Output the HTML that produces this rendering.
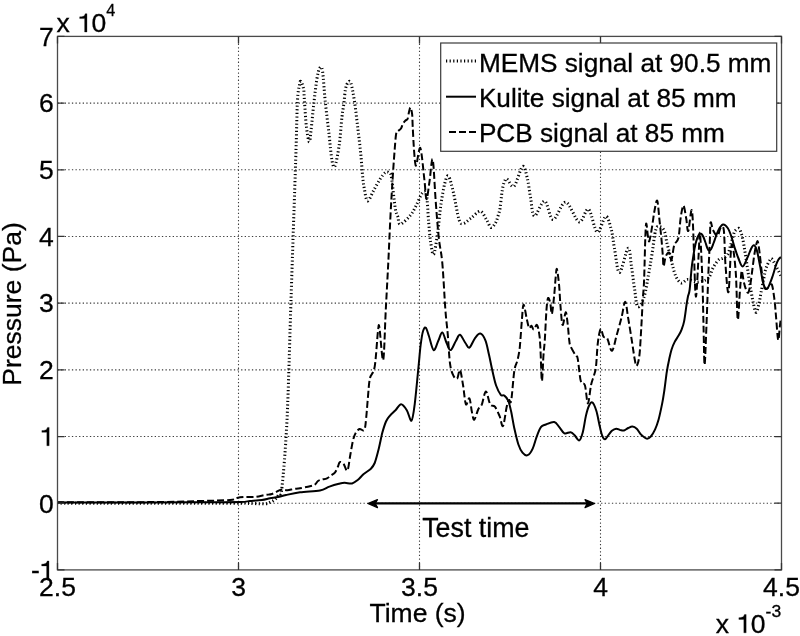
<!DOCTYPE html><html><head><meta charset="utf-8"><style>html,body{margin:0;padding:0;background:#fff;}svg{display:block;will-change:transform;}text{font-family:"Liberation Sans",sans-serif;fill:#000;stroke:#000;stroke-width:0.3px;}</style></head><body>
<svg width="800" height="636" viewBox="0 0 800 636">
<rect width="800" height="636" fill="#fff"/>
<path d="M238.5,36.4V569.9M419.5,36.4V569.9M600.5,36.4V569.9M57.5,103.0875H781.5M57.5,169.775H781.5M57.5,236.4625H781.5M57.5,303.15H781.5M57.5,369.8375H781.5M57.5,436.525H781.5M57.5,503.2125H781.5" stroke="#3c3c3c" stroke-width="1.1" stroke-dasharray="1.3 2.3" fill="none"/>
<path d="M57.0,503.3C64.2,503.3 84.5,503.2 100.0,503.2C115.5,503.2 133.3,503.3 150.0,503.3C166.7,503.3 185.0,503.2 200.0,503.2C215.0,503.2 230.8,503.1 240.0,503.2C249.2,503.3 250.8,503.5 255.0,503.6C259.2,503.7 262.5,504.0 265.0,503.8C267.5,503.6 268.3,503.0 270.0,502.3C271.7,501.6 273.5,500.9 275.0,499.5C276.5,498.1 277.8,496.1 279.0,494.0C280.2,491.9 280.7,499.3 282.0,487.0C283.3,474.7 285.5,451.2 287.0,420.0C288.5,388.8 289.6,343.3 291.0,300.0C292.4,256.7 294.6,193.0 295.7,160.0C296.8,127.0 296.8,114.5 297.4,102.0C298.0,89.5 298.9,88.4 299.5,85.0C300.1,81.6 300.1,80.7 300.8,81.4C301.5,82.1 303.0,85.6 303.6,89.0C304.2,92.4 304.0,95.7 304.5,102.0C305.0,108.3 305.6,120.1 306.4,126.7C307.2,133.3 308.4,141.2 309.2,141.8C310.0,142.4 310.2,137.1 311.0,130.5C311.8,123.9 313.0,110.5 314.0,102.0C315.0,93.5 315.9,85.1 316.8,79.5C317.7,73.9 318.7,69.6 319.6,68.2C320.6,66.8 321.6,65.4 322.5,71.0C323.4,76.6 324.2,91.5 325.3,102.0C326.4,112.5 327.9,124.2 329.0,134.0C330.1,143.8 331.0,155.4 332.0,160.7C333.0,166.0 333.8,168.6 335.0,166.0C336.2,163.4 338.0,153.2 339.2,145.0C340.4,136.8 341.2,123.5 342.0,116.6C342.8,109.7 343.3,108.0 343.9,103.4C344.5,98.8 344.8,92.6 345.5,89.0C346.2,85.4 347.4,82.9 348.3,82.0C349.2,81.1 350.0,80.2 351.0,83.5C352.0,86.8 353.3,93.8 354.5,101.5C355.7,109.2 356.9,121.0 358.0,129.8C359.1,138.6 360.0,146.4 360.8,154.3C361.6,162.2 362.1,171.2 362.7,177.0C363.3,182.8 363.6,185.0 364.4,189.0C365.2,193.0 366.0,200.7 367.6,200.9C369.2,201.1 371.8,193.7 373.9,190.0C376.0,186.3 378.3,181.8 380.2,178.9C382.1,176.0 383.7,173.7 385.2,172.6C386.7,171.5 387.9,171.8 389.0,172.6C390.1,173.4 390.5,171.7 391.5,177.6C392.5,183.5 394.1,201.3 395.2,207.8C396.2,214.3 396.9,213.9 397.8,216.6C398.7,219.3 398.2,224.4 400.3,224.2C402.4,224.0 407.5,218.7 410.2,215.5C412.9,212.3 414.3,209.1 416.3,205.3C418.3,201.6 420.7,194.7 422.4,193.0C424.1,191.3 425.5,190.2 426.5,195.0C427.5,199.8 427.9,213.8 428.6,221.6C429.3,229.4 429.8,236.6 430.6,242.0C431.5,247.4 432.5,256.0 433.7,254.3C434.9,252.6 436.6,240.0 437.8,231.8C439.0,223.6 439.6,213.5 440.8,205.3C442.0,197.2 443.6,187.7 444.9,182.9C446.2,178.1 447.2,174.6 448.6,176.3C450.0,178.0 451.8,185.8 453.5,193.0C455.2,200.2 457.4,214.5 459.0,219.6C460.6,224.7 461.4,223.7 463.3,223.5C465.2,223.3 467.9,220.4 470.7,218.4C473.5,216.4 477.6,211.1 480.2,211.3C482.8,211.5 484.6,216.8 486.4,219.5C488.2,222.2 489.5,226.9 491.0,227.5C492.5,228.1 494.3,224.9 495.5,223.0C496.7,221.1 497.2,218.4 498.0,216.0C498.8,213.6 499.4,212.0 500.0,208.5C500.6,205.0 501.1,198.7 501.6,195.0C502.1,191.3 502.5,188.8 503.0,186.5C503.5,184.2 503.8,182.8 504.5,181.5C505.2,180.2 505.4,178.2 507.0,179.0C508.6,179.8 511.4,188.3 514.0,186.2C516.6,184.1 520.4,167.8 522.6,166.5C524.8,165.2 526.0,173.2 527.3,178.3C528.6,183.4 529.3,190.9 530.5,197.2C531.7,203.5 532.0,215.3 534.4,216.0C536.8,216.7 541.5,200.5 544.6,201.1C547.7,201.7 549.6,219.3 553.1,219.5C556.6,219.7 561.4,201.8 565.7,202.2C570.0,202.6 575.3,220.7 579.1,221.9C582.9,223.1 585.5,207.6 588.5,209.3C591.5,211.0 594.3,230.9 597.2,232.1C600.1,233.3 603.4,216.8 605.8,216.4C608.1,216.0 609.8,224.3 611.3,229.7C612.8,235.1 613.1,241.5 614.5,248.6C615.9,255.7 617.2,272.6 619.5,272.5C621.8,272.4 626.1,249.3 628.1,248.2C630.1,247.1 630.3,258.8 631.4,265.7C632.5,272.6 633.5,282.5 634.6,289.3C635.7,296.1 636.1,305.3 637.7,306.6C639.3,307.9 642.2,302.7 644.0,297.2C645.8,291.7 647.4,280.7 648.7,273.6C650.0,266.5 650.7,262.0 651.9,254.7C653.1,247.4 654.4,234.2 655.8,229.6C657.1,224.9 658.6,226.6 660.0,226.8C661.4,227.0 663.1,228.2 664.3,231.0C665.5,233.8 666.1,239.7 667.1,243.7C668.1,247.7 669.0,251.2 670.0,255.0C671.0,258.8 671.8,262.7 672.8,266.4C673.8,270.1 674.8,274.5 676.3,277.3C677.8,280.1 679.6,282.6 681.5,283.0C683.4,283.4 685.2,279.7 687.8,279.5C690.4,279.3 694.0,281.9 697.0,282.0C700.0,282.1 703.8,280.9 705.9,279.9C708.0,278.9 708.8,277.7 709.8,276.0C710.8,274.3 711.3,271.7 712.2,269.7C713.1,267.7 714.1,265.9 715.3,264.2C716.5,262.5 717.9,260.4 719.2,259.4C720.5,258.4 721.8,258.9 723.2,258.0C724.6,257.1 726.6,256.1 727.7,254.3C728.9,252.5 729.4,249.4 730.1,247.2C730.8,245.0 731.1,243.3 731.7,241.0C732.4,238.7 733.4,234.9 734.0,233.1C734.6,231.3 734.8,231.1 735.6,230.3C736.5,229.5 738.2,227.9 739.1,228.4C740.0,228.9 740.5,231.4 741.1,233.1C741.7,234.8 742.1,235.8 742.7,238.6C743.3,241.4 744.0,245.8 744.7,250.1C745.4,254.4 746.2,259.6 746.9,264.3C747.6,269.0 748.3,273.9 749.0,278.4C749.7,282.9 750.4,287.2 751.1,291.2C751.8,295.2 752.4,299.0 753.2,302.5C754.0,306.0 755.0,312.2 756.0,312.4C757.0,312.6 758.1,307.2 758.9,303.9C759.7,300.6 760.2,296.9 761.0,292.6C761.8,288.4 763.0,282.4 763.8,278.4C764.6,274.4 764.9,271.4 765.9,268.5C766.9,265.6 768.5,262.4 769.5,260.8C770.5,259.2 770.7,257.8 772.0,259.0C773.3,260.2 775.6,265.5 777.1,268.3C778.6,271.1 780.4,274.7 781.0,276.0" stroke="#000" stroke-width="3" stroke-dasharray="1.2 2.4" fill="none"/>
<path d="M57.0,502.4C72.5,502.4 126.2,502.4 150.0,502.4C173.8,502.4 185.0,502.4 200.0,502.3C215.0,502.2 231.7,502.2 240.0,502.0C248.3,501.8 246.3,501.3 250.0,501.0C253.7,500.7 258.7,500.4 262.0,500.0C265.3,499.6 267.3,498.8 270.0,498.3C272.7,497.8 275.3,497.6 278.0,497.0C280.7,496.4 282.3,495.8 286.0,495.0C289.7,494.2 294.3,493.1 300.0,492.3C305.7,491.5 315.1,491.3 320.0,490.4C324.9,489.4 326.2,487.7 329.4,486.6C332.5,485.5 336.4,484.4 338.9,483.8C341.4,483.2 342.3,482.9 344.5,482.8C346.7,482.7 349.9,483.9 352.1,483.4C354.3,482.9 355.8,481.5 357.7,480.0C359.6,478.5 361.2,476.2 363.4,474.3C365.6,472.4 369.0,470.6 370.9,468.7C372.8,466.8 373.4,466.1 374.7,463.0C376.0,459.9 377.2,454.8 378.5,449.8C379.8,444.8 381.1,437.5 382.3,432.8C383.6,428.1 384.8,424.3 386.0,421.5C387.2,418.7 388.2,417.7 389.8,415.8C391.4,413.9 393.6,412.1 395.5,410.2C397.4,408.3 399.2,404.2 401.1,404.2C403.0,404.2 405.1,407.5 406.8,410.2C408.5,412.9 410.2,421.6 411.5,420.6C412.8,419.6 413.6,412.9 414.7,404.3C415.8,395.7 417.3,378.8 418.3,369.0C419.3,359.2 419.8,351.7 420.6,345.4C421.4,339.1 422.1,334.1 423.0,331.2C423.9,328.2 424.8,326.9 425.8,327.7C426.8,328.5 427.6,332.3 428.9,336.0C430.2,339.7 432.0,349.3 433.6,350.1C435.2,350.9 436.9,343.6 438.3,340.7C439.8,337.8 440.9,332.0 442.3,332.4C443.7,332.8 445.2,340.1 446.6,343.0C448.0,345.9 449.0,350.5 450.6,350.1C452.2,349.7 454.4,343.2 456.0,340.7C457.6,338.1 458.4,334.4 460.0,334.8C461.6,335.2 463.8,340.9 465.4,343.0C467.0,345.1 467.8,348.5 469.4,347.7C471.0,346.9 473.1,340.6 474.9,338.3C476.7,336.0 478.5,333.2 480.3,333.6C482.1,334.0 484.1,337.2 485.5,340.7C486.9,344.2 487.8,349.7 489.0,354.8C490.2,359.9 491.3,366.2 492.5,371.3C493.7,376.4 494.7,381.6 496.1,385.5C497.5,389.4 499.5,393.2 500.8,394.9C502.1,396.5 502.9,394.4 504.1,395.4C505.3,396.3 507.0,397.9 508.2,400.6C509.4,403.3 510.2,407.2 511.2,411.8C512.2,416.4 513.1,422.8 514.3,428.2C515.5,433.6 517.0,440.4 518.4,444.5C519.8,448.6 521.0,450.9 522.5,452.7C524.0,454.5 525.9,455.9 527.6,455.2C529.3,454.5 531.2,451.8 532.7,448.6C534.2,445.5 535.4,439.9 536.8,436.3C538.2,432.7 539.4,429.1 540.9,427.1C542.4,425.1 543.8,425.4 546.0,424.5C548.2,423.6 552.0,421.6 554.2,422.0C556.4,422.4 557.6,425.2 559.3,427.1C561.0,429.0 562.5,432.5 564.4,433.3C566.3,434.1 568.9,431.9 570.6,432.2C572.3,432.5 573.2,433.9 574.6,435.3C576.0,436.7 577.9,440.9 579.3,440.4C580.7,439.9 581.7,436.3 582.8,432.2C583.9,428.1 584.9,420.3 585.9,415.9C586.9,411.5 587.9,407.9 589.0,405.7C590.1,403.5 591.3,401.6 592.5,402.5C593.7,403.4 595.3,407.5 596.4,411.0C597.5,414.5 598.3,419.7 599.2,423.7C600.1,427.7 601.0,432.5 602.0,435.1C603.0,437.7 603.8,439.3 604.9,439.3C606.0,439.3 607.2,436.5 608.4,435.1C609.6,433.7 610.6,431.9 611.9,430.8C613.2,429.7 614.8,428.8 616.2,428.7C617.6,428.6 619.1,429.8 620.4,430.1C621.7,430.4 622.6,430.9 623.9,430.5C625.2,430.1 626.8,428.6 628.2,428.0C629.6,427.4 631.0,426.5 632.4,426.6C633.8,426.7 635.3,427.4 636.7,428.7C638.1,430.0 639.2,432.8 640.9,434.4C642.5,436.0 645.0,438.2 646.6,438.6C648.2,439.0 649.4,438.0 650.8,436.5C652.2,435.0 653.8,432.2 655.1,429.4C656.4,426.6 657.4,423.8 658.6,419.5C659.8,415.2 661.1,408.8 662.1,403.9C663.1,399.0 663.6,395.4 664.4,390.0C665.2,384.6 666.0,376.9 666.8,371.8C667.6,366.7 668.4,362.9 669.2,359.2C670.0,355.5 670.6,352.6 671.5,349.7C672.4,346.8 673.5,344.2 674.7,341.9C675.9,339.5 677.4,337.7 678.6,335.6C679.8,333.5 680.8,331.7 681.7,329.3C682.6,326.9 683.3,325.3 684.1,321.4C684.9,317.5 685.8,309.9 686.4,305.7C687.0,301.5 687.5,298.9 688.0,296.3C688.5,293.7 689.0,294.6 689.6,290.0C690.2,285.4 691.0,274.3 691.6,268.5C692.2,262.7 692.9,259.1 693.5,255.0C694.1,250.9 694.8,246.9 695.5,244.0C696.2,241.1 696.8,239.2 697.5,237.5C698.2,235.8 698.9,234.6 699.5,234.0C700.1,233.4 700.7,233.4 701.3,233.8C701.9,234.2 702.5,235.1 703.2,236.5C703.9,237.9 704.6,240.1 705.3,242.0C706.0,243.9 706.7,246.6 707.3,248.0C707.9,249.4 708.4,250.3 709.0,250.5C709.6,250.7 710.2,250.6 711.0,249.3C711.8,248.1 712.4,246.2 713.6,243.0C714.8,239.8 716.7,233.5 718.3,230.4C719.9,227.3 721.4,224.9 723.0,224.5C724.6,224.1 726.3,226.0 727.7,228.0C729.1,230.0 730.1,233.0 731.3,236.3C732.5,239.7 733.6,244.5 734.8,248.1C736.0,251.7 737.0,254.9 738.3,258.0C739.6,261.1 741.0,266.5 742.6,266.4C744.2,266.3 746.2,260.1 747.6,257.2C749.0,254.2 750.1,250.7 751.1,248.7C752.1,246.7 753.0,245.0 753.9,245.2C754.8,245.4 755.7,246.4 756.8,250.1C757.9,253.8 759.2,261.7 760.3,267.1C761.3,272.5 762.0,279.1 763.1,282.7C764.2,286.3 765.5,289.0 766.7,289.0C767.9,289.0 769.2,285.0 770.2,282.7C771.2,280.4 772.0,277.9 773.0,275.0C774.0,272.1 775.1,267.6 776.0,265.0C776.9,262.4 777.7,260.8 778.5,259.5C779.3,258.2 780.6,257.4 781.0,257.0" stroke="#000" stroke-width="2" fill="none" stroke-linejoin="round"/>
<path d="M57.0,502.3C72.5,502.3 126.2,502.3 150.0,502.1C173.8,501.9 186.7,501.4 200.0,501.0C213.3,500.6 223.8,500.5 230.0,500.0C236.2,499.5 234.5,498.5 237.0,498.0C239.5,497.5 242.0,497.2 245.0,497.0C248.0,496.8 251.7,497.3 255.0,497.0C258.3,496.7 262.2,495.5 265.0,495.0C267.8,494.5 269.8,494.7 272.0,494.0C274.2,493.3 276.3,491.7 278.0,491.0C279.7,490.3 280.4,489.7 282.0,489.6C283.6,489.5 285.4,490.4 287.4,490.3C289.4,490.2 292.0,489.3 294.1,489.0C296.2,488.7 297.4,488.8 300.0,488.3C302.6,487.8 307.5,486.8 310.0,486.2C312.5,485.6 313.7,485.4 315.0,484.5C316.3,483.6 316.8,481.8 318.0,481.0C319.2,480.2 320.5,479.9 322.0,479.5C323.5,479.1 325.5,479.0 327.0,478.3C328.5,477.6 329.6,476.5 331.0,475.5C332.4,474.5 334.0,473.8 335.1,472.3C336.2,470.9 337.1,468.5 337.9,466.8C338.7,465.1 338.9,462.6 339.8,462.1C340.8,461.6 342.3,462.6 343.6,464.0C344.9,465.4 346.3,472.0 347.4,470.6C348.5,469.2 349.3,460.5 350.2,455.5C351.1,450.5 352.1,444.2 353.0,440.4C353.9,436.6 354.7,434.7 355.8,432.8C356.9,430.9 358.2,429.5 359.6,429.0C361.0,428.5 363.2,431.9 364.3,430.0C365.4,428.1 365.6,423.5 366.2,417.7C366.8,411.9 367.5,401.7 368.1,395.1C368.7,388.5 368.9,382.7 370.0,378.0C371.1,373.3 373.4,374.4 374.7,366.7C376.0,359.0 377.1,338.6 377.9,332.0C378.7,325.4 378.5,322.7 379.4,327.4C380.3,332.1 382.1,362.6 383.2,360.0C384.2,357.4 384.9,327.4 385.7,311.5C386.5,295.6 387.4,280.0 388.2,264.3C389.0,248.6 389.7,231.3 390.4,217.2C391.1,203.0 391.9,190.9 392.6,179.4C393.3,167.9 394.2,155.7 394.8,148.0C395.4,140.3 395.7,136.3 396.2,133.5C396.7,130.7 397.0,132.1 397.8,131.3C398.6,130.5 400.1,129.8 401.0,128.5C401.9,127.2 402.2,124.8 403.0,123.5C403.8,122.2 404.7,121.3 405.5,120.5C406.3,119.7 407.0,120.2 407.6,118.8C408.2,117.4 408.5,113.9 409.0,112.0C409.5,110.1 410.0,107.2 410.5,107.5C411.0,107.8 411.7,110.8 412.1,113.9C412.5,117.1 412.4,121.2 412.7,126.4C413.0,131.6 413.3,139.2 413.7,145.3C414.1,151.4 414.7,159.8 415.2,162.9C415.7,166.1 415.6,166.6 416.5,164.2C417.4,161.8 419.1,145.4 420.4,148.2C421.7,151.0 423.5,172.3 424.5,180.8C425.5,189.3 425.6,199.2 426.5,199.2C427.4,199.2 428.6,187.4 429.6,180.8C430.6,174.2 431.7,156.0 432.7,159.4C433.7,162.8 434.7,188.1 435.7,201.2C436.7,214.3 437.7,227.7 438.8,238.0C439.9,248.3 441.2,250.9 442.3,262.9C443.4,274.9 444.5,298.2 445.4,310.0C446.3,321.8 446.9,324.6 447.7,333.6C448.5,342.6 449.1,357.1 450.1,364.2C451.1,371.3 452.4,373.6 453.6,376.0C454.8,378.4 456.1,379.4 457.2,378.4C458.3,377.4 459.0,368.9 460.0,370.1C461.0,371.3 462.1,379.8 463.1,385.5C464.1,391.2 464.8,402.2 465.9,404.3C466.9,406.4 468.4,397.2 469.4,398.4C470.4,399.6 471.0,407.8 471.8,411.4C472.6,414.9 473.1,420.1 474.2,419.7C475.3,419.3 477.1,411.6 478.4,409.0C479.7,406.4 480.6,407.2 481.9,404.3C483.1,401.4 484.5,391.4 485.9,391.4C487.3,391.4 488.7,401.8 490.2,404.3C491.7,406.9 493.3,404.7 494.9,406.7C496.5,408.7 498.2,412.9 499.6,416.1C501.0,419.3 501.8,427.6 503.0,426.0C504.2,424.4 505.7,411.0 506.7,406.7C507.7,402.4 508.2,401.0 509.0,400.0C509.8,399.0 510.3,405.5 511.2,400.6C512.1,395.8 513.3,377.5 514.3,370.9C515.3,364.2 516.5,364.1 517.4,360.7C518.2,357.3 518.9,353.8 519.4,350.4C519.9,346.9 520.0,345.3 520.4,340.0C520.8,334.7 521.5,324.5 522.0,318.6C522.5,312.7 522.8,304.5 523.6,304.5C524.4,304.5 525.8,314.7 526.7,318.6C527.6,322.5 528.3,326.8 529.1,328.0C529.9,329.2 530.6,325.4 531.4,325.7C532.2,326.0 532.9,329.7 533.8,329.6C534.7,329.5 536.1,324.1 537.0,324.9C537.9,325.7 538.7,330.1 539.3,334.3C539.9,338.5 540.1,342.2 540.5,350.0C540.9,357.8 541.4,380.2 541.9,381.0C542.4,381.8 543.0,361.8 543.5,355.0C544.0,348.2 544.3,347.4 544.8,340.0C545.3,332.6 545.9,317.8 546.4,310.8C546.9,303.8 547.4,299.5 548.0,298.2C548.6,296.9 549.6,300.3 550.3,302.9C550.9,305.5 551.2,315.2 551.9,313.9C552.5,312.6 553.6,301.3 554.2,295.0C554.9,288.7 555.3,280.5 555.8,276.2C556.2,271.9 556.4,267.8 556.9,269.1C557.4,270.4 558.4,277.9 559.0,284.0C559.6,290.1 559.9,299.2 560.5,306.0C561.1,312.8 561.7,323.8 562.6,324.9C563.5,325.9 564.9,312.6 565.7,312.3C566.5,312.0 567.0,318.7 567.6,323.3C568.2,327.9 568.7,336.1 569.2,340.0C569.7,343.9 569.5,343.8 570.6,346.4C571.7,349.0 574.5,353.6 575.7,355.6C576.9,357.6 576.9,354.4 577.7,358.6C578.6,362.9 579.6,376.7 580.8,381.1C582.0,385.5 583.7,381.4 584.9,385.2C586.1,388.9 586.9,403.6 587.9,403.6C588.9,403.6 590.0,390.0 591.0,385.2C592.0,380.4 593.3,378.1 594.1,375.0C594.9,371.9 595.4,372.2 596.0,366.8C596.6,361.4 597.1,348.6 597.9,342.3C598.7,336.0 599.8,329.9 600.7,329.0C601.6,328.1 602.4,335.0 603.5,336.6C604.6,338.2 605.9,336.1 607.3,338.5C608.7,340.9 610.4,351.4 612.0,350.8C613.6,350.2 615.2,340.2 616.8,334.7C618.4,329.2 620.1,323.2 621.5,317.7C622.9,312.2 624.1,301.7 625.2,301.7C626.3,301.7 627.0,311.2 628.1,317.7C629.2,324.1 630.7,333.5 631.8,340.4C632.9,347.3 633.9,355.0 634.7,359.2C635.5,363.4 635.8,366.4 636.6,365.8C637.4,365.2 638.6,361.9 639.4,355.5C640.2,349.1 640.7,336.6 641.3,327.2C641.9,317.8 642.3,306.8 642.8,298.9C643.3,291.0 643.6,292.2 644.1,280.0C644.6,267.8 645.2,232.6 645.9,225.4C646.5,218.2 647.4,234.1 648.0,236.7C648.6,239.3 648.7,242.8 649.4,240.9C650.1,239.0 651.5,230.4 652.3,225.4C653.1,220.4 653.6,215.3 654.4,211.2C655.2,207.1 656.4,199.4 657.2,200.6C658.0,201.8 658.6,211.8 659.3,218.3C660.0,224.8 660.9,233.1 661.5,239.5C662.1,245.9 662.5,252.0 662.9,256.5C663.2,261.0 663.1,266.4 663.6,266.4C664.1,266.4 664.8,258.8 665.7,256.5C666.6,254.2 668.2,251.9 669.2,252.5C670.2,253.1 670.7,261.2 671.5,260.0C672.3,258.8 673.1,248.8 674.2,245.2C675.4,241.5 677.3,242.6 678.4,238.1C679.5,233.6 679.8,223.7 680.6,218.3C681.4,212.9 682.5,205.6 683.4,205.6C684.3,205.6 685.4,214.1 686.2,218.3C687.0,222.5 687.3,232.3 688.3,231.0C689.2,229.7 690.9,206.7 691.9,210.5C692.9,214.3 693.5,240.5 694.0,253.6C694.5,266.7 694.8,282.4 695.2,289.1C695.6,295.8 695.8,299.7 696.4,293.8C697.0,287.9 698.1,263.6 698.7,253.6C699.3,243.5 699.4,229.6 700.0,233.5C700.6,237.4 701.7,262.1 702.3,277.3C702.9,292.5 703.1,310.0 703.5,324.6C703.9,339.2 704.1,364.8 704.6,364.8C705.1,364.8 705.9,339.2 706.5,324.6C707.1,310.0 707.7,291.1 708.2,277.3C708.8,263.5 709.4,250.9 709.8,241.8C710.2,232.7 710.1,224.5 710.6,222.5C711.1,220.5 711.9,227.8 713.0,230.0C714.1,232.2 716.2,236.3 717.5,236.0C718.8,235.7 719.5,229.0 720.5,228.0C721.5,227.0 723.0,223.8 723.8,230.0C724.6,236.2 724.7,254.7 725.5,265.0C726.3,275.3 727.5,295.3 728.5,292.0C729.5,288.7 730.4,248.4 731.6,245.0C732.8,241.6 734.7,259.2 735.7,271.6C736.7,284.0 737.0,316.0 737.7,319.5C738.4,323.0 739.2,300.2 739.8,292.6C740.4,285.1 740.9,277.7 741.2,274.2C741.6,270.7 741.4,270.0 741.9,271.4C742.4,272.8 743.3,279.6 744.0,282.7C744.7,285.8 745.4,288.0 746.1,289.7C746.8,291.4 747.6,293.5 748.3,292.6C749.0,291.7 749.7,288.1 750.4,284.1C751.1,280.1 751.8,273.7 752.5,268.5C753.2,263.3 753.8,257.6 754.6,253.0C755.4,248.4 756.7,241.0 757.5,241.0C758.3,241.0 758.9,247.9 759.6,253.0C760.3,258.1 761.0,266.0 761.7,271.4C762.4,276.8 763.2,282.6 763.8,285.5C764.4,288.4 764.6,288.8 765.5,289.0C766.4,289.2 767.9,287.7 769.0,287.0C770.1,286.3 771.1,282.8 772.0,285.0C772.9,287.2 773.8,294.6 774.5,300.0C775.2,305.4 775.5,310.8 776.1,317.5C776.7,324.2 777.6,338.8 778.2,340.0C778.9,341.2 779.5,328.7 780.0,325.0C780.5,321.3 780.8,319.2 781.0,318.0" stroke="#000" stroke-width="2" stroke-dasharray="7 3" fill="none" stroke-linejoin="round"/>
<rect x="57.5" y="36.4" width="724.0" height="533.5" fill="none" stroke="#4a4a4a" stroke-width="1.3"/>
<path d="M57.5,569.9v-7M57.5,36.4v7M238.5,569.9v-7M238.5,36.4v7M419.5,569.9v-7M419.5,36.4v7M600.5,569.9v-7M600.5,36.4v7M781.5,569.9v-7M781.5,36.4v7M57.5,36.4h7M781.5,36.4h-7M57.5,103.0875h7M781.5,103.0875h-7M57.5,169.775h7M781.5,169.775h-7M57.5,236.4625h7M781.5,236.4625h-7M57.5,303.15h7M781.5,303.15h-7M57.5,369.8375h7M781.5,369.8375h-7M57.5,436.525h7M781.5,436.525h-7M57.5,503.2125h7M781.5,503.2125h-7M57.5,569.9h7M781.5,569.9h-7" stroke="#333" stroke-width="1.3" fill="none"/>
<text x="53.7" y="45.7" font-size="26.5" text-anchor="end">7</text>
<text x="53.7" y="112.3875" font-size="26.5" text-anchor="end">6</text>
<text x="53.7" y="179.07500000000002" font-size="26.5" text-anchor="end">5</text>
<text x="53.7" y="245.76250000000002" font-size="26.5" text-anchor="end">4</text>
<text x="53.7" y="312.45" font-size="26.5" text-anchor="end">3</text>
<text x="53.7" y="379.1375" font-size="26.5" text-anchor="end">2</text>
<path d="M318,0L406,0L406,692L342,692C332,645 306,612 266,594C232,579 188,573 131,572L131,505L318,505Z" transform="translate(38.40,445.72) scale(0.02650,-0.02650)" fill="#000" stroke="#000" stroke-width="11"/>
<text x="53.7" y="512.5124999999999" font-size="26.5" text-anchor="end">0</text>
<text x="30.9" y="579.1999999999999" font-size="26.5">-</text>
<path d="M318,0L406,0L406,692L342,692C332,645 306,612 266,594C232,579 188,573 131,572L131,505L318,505Z" transform="translate(38.20,579.30) scale(0.02650,-0.02650)" fill="#000" stroke="#000" stroke-width="11"/>
<text x="57.5" y="596" font-size="26.5" text-anchor="middle">2.5</text>
<text x="238.5" y="596" font-size="26.5" text-anchor="middle">3</text>
<text x="419.5" y="596" font-size="26.5" text-anchor="middle">3.5</text>
<text x="600.5" y="596" font-size="26.5" text-anchor="middle">4</text>
<text x="781.5" y="596" font-size="26.5" text-anchor="middle">4.5</text>
<text x="56.5" y="32" font-size="26.5">x</text><text x="91.5" y="32" font-size="26.5">0</text>
<path d="M318,0L406,0L406,692L342,692C332,645 306,612 266,594C232,579 188,573 131,572L131,505L318,505Z" transform="translate(76.20,32.00) scale(0.02650,-0.02650)" fill="#000" stroke="#000" stroke-width="11"/>
<text x="106.3" y="16" font-size="17" textLength="9" lengthAdjust="spacingAndGlyphs">4</text>
<text x="715.8" y="633" font-size="26.5">x</text><text x="750.7" y="633" font-size="26.5">0</text>
<path d="M318,0L406,0L406,692L342,692C332,645 306,612 266,594C232,579 188,573 131,572L131,505L318,505Z" transform="translate(735.40,632.80) scale(0.02650,-0.02650)" fill="#000" stroke="#000" stroke-width="11"/>
<text x="765.6" y="617" font-size="17" textLength="15.6" lengthAdjust="spacingAndGlyphs">-3</text>
<text x="417.6" y="622" font-size="26.5" text-anchor="middle">Time (s)</text>
<text transform="translate(21,304) rotate(-90)" font-size="26.5" text-anchor="middle">Pressure (Pa)</text>
<path d="M370,503.4H592" stroke="#000" stroke-width="2.1" fill="none"/>
<path d="M367.8,503.5L377.5,499.6L375.3,503.5L377.5,507.6Z" fill="#000" stroke="#000" stroke-width="1.2" stroke-linejoin="round"/>
<path d="M594.7,503.5L585,499.6L587.2,503.5L585,507.6Z" fill="#000" stroke="#000" stroke-width="1.2" stroke-linejoin="round"/>
<text x="422.2" y="536.8" font-size="26.8">Test time</text>
<rect x="440.7" y="43" width="336" height="108.3" fill="#fff" stroke="#3a3a3a" stroke-width="1.2"/>
<path d="M446,61H476.5" stroke="#000" stroke-width="3" stroke-dasharray="1.2 2.4" fill="none"/>
<path d="M446,96.7H476" stroke="#000" stroke-width="2" fill="none"/>
<path d="M449,131.9H476" stroke="#000" stroke-width="2" stroke-dasharray="7 3" fill="none"/>
<text x="478.9" y="71.5" font-size="26.2">MEMS signal at 90.5 mm</text>
<text x="478.9" y="107.3" font-size="26.2">Kulite signal at 85 mm</text>
<text x="478.9" y="142.3" font-size="26.2">PCB signal at 85 mm</text>
</svg></body></html>
